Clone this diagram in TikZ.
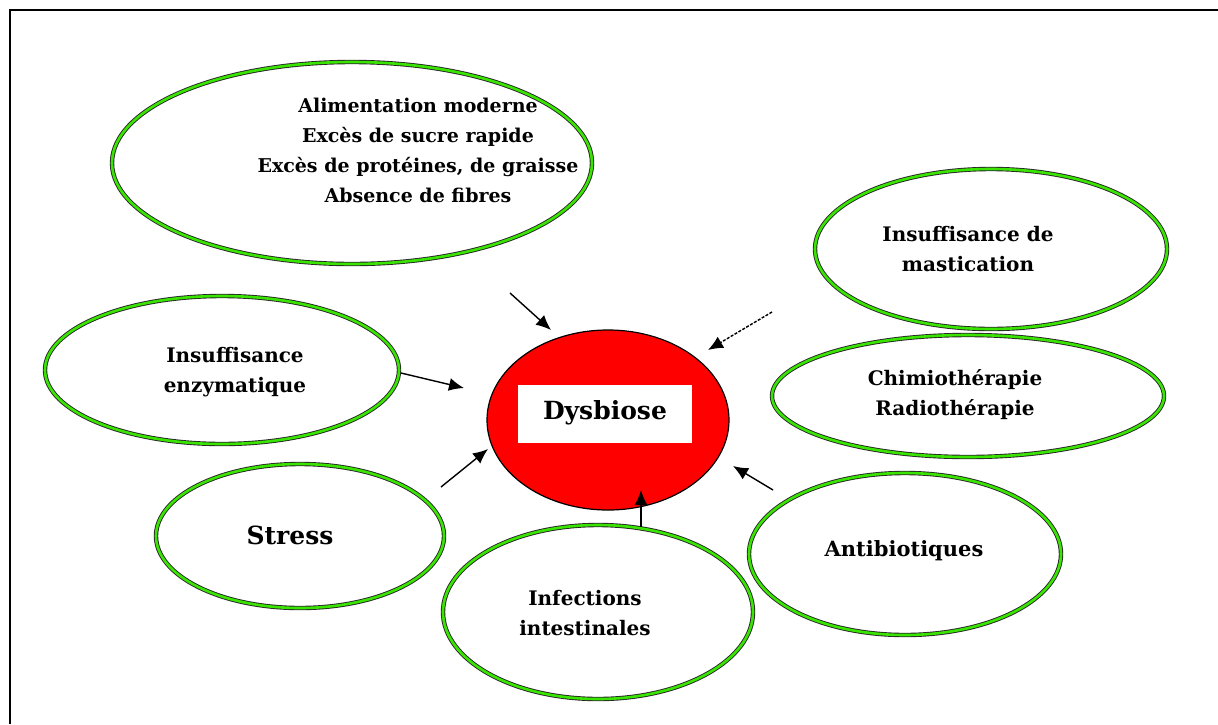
\documentclass[tikz,border=0pt]{standalone}
\usepackage{fontspec}
\setmainfont{DejaVu Serif}
\usetikzlibrary{shapes.geometric,arrows.meta}
\begin{document}
\begin{tikzpicture}[x=1pt,y=-1pt,
  cause/.style={draw=black!85,line width=0.9pt,double=green!75!yellow!90!black,double distance=2.6pt},
  lbl/.style={font=\bfseries\fontsize{20}{30}\selectfont,align=center,inner sep=0pt},
  big/.style={font=\bfseries\fontsize{25}{30}\selectfont},
  arr/.style={-{Latex[length=15pt,width=13pt]},line width=1.4pt}
]
\useasboundingbox (0,0) rectangle (1218,724);
\draw[line width=2pt] (10,724) -- (10,10) -- (1218,10);
% ellipses
\draw[cause] (352,163) ellipse [x radius=240,y radius=101];
\draw[cause] (991,249) ellipse [x radius=176,y radius=80];
\draw[cause] (222,370) ellipse [x radius=177,y radius=74];
\draw[cause] (968,396) ellipse [x radius=196,y radius=61];
\draw[cause] (300,536) ellipse [x radius=144,y radius=72];
\draw[cause] (905,554) ellipse [x radius=156,y radius=81];
\draw[cause] (598,612) ellipse [x radius=155,y radius=87];
\draw[fill=red,line width=1.2pt] (608,420) ellipse [x radius=121,y radius=90];
\fill[white] (518,385) rectangle (692,443);
% labels
\node[lbl,font=\bfseries\fontsize{19}{30}\selectfont] (alim) at (418,150) {Alimentation moderne\\Excès de sucre rapide\\Excès de protéines, de graisse\\Absence de fibres};
\node[lbl] (mast) at (968,249) {Insuffisance de\\mastication};
\node[lbl] (enz) at (235,372) {Insuffisance\\enzymatique};
\node[lbl] (chim) at (955,395) {Chimiothérapie\\Radiothérapie};
\node[lbl,big] (stress) at (290,535) {Stress};
\node[lbl,font=\bfseries\fontsize{21}{30}\selectfont] (anti) at (904,551) {Antibiotiques};
\node[lbl] (inf) at (585,613) {Infections\\intestinales};
\node[lbl,big] (dys) at (605,413) {Dysbiose};
% arrow endpoints
\coordinate (a1s) at (510,293); \coordinate (a1e) at (551,330);
\coordinate (a2s) at (772,312); \coordinate (a2e) at (708,350);
\coordinate (a3s) at (401,373); \coordinate (a3e) at (464,388);
\coordinate (a4s) at (441,487); \coordinate (a4e) at (488,449);
\coordinate (a5s) at (641,527); \coordinate (a5e) at (641,490);
\coordinate (a6s) at (773,490); \coordinate (a6e) at (733,466);
\draw[arr] (a1s) -- (a1e);
\draw[arr,dash pattern=on 3pt off 1.5pt] (a2s) -- (a2e);
\draw[arr] (a3s) -- (a3e);
\draw[arr] (a4s) -- (a4e);
\draw[arr] (a5s) -- (a5e);
\draw[arr] (a6s) -- (a6e);
\end{tikzpicture}
\end{document}
